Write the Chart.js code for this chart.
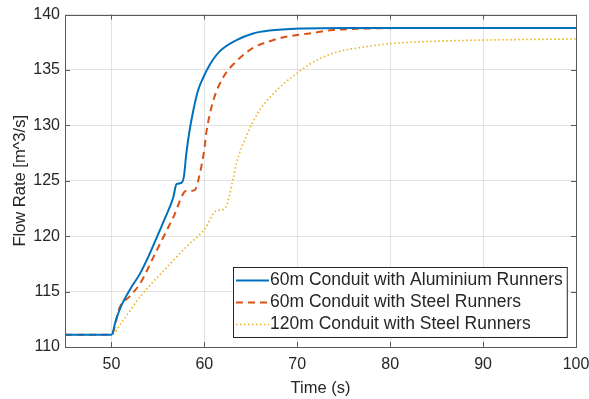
<!DOCTYPE html>
<html>
<head>
<meta charset="utf-8">
<script src="https://cdn.jsdelivr.net/npm/chart.js@4/dist/chart.umd.min.js"></script>
<style>
html,body{margin:0;padding:0;background:#fff;}
canvas{display:block;}
</style>
</head>
<body>
<canvas id="c" width="589" height="399"></canvas>
<script>
// ---- data ----
const seriesNames = [
  "60m Conduit with Aluminium Runners",
  "60m Conduit with Steel Runners",
  "120m Conduit with Steel Runners"
];
const timeAlu = [45, 50, 50.5, 51.1, 52, 53.06, 54, 54.86, 55.8, 56.65, 57.0, 57.5, 57.8, 58.05, 58.4, 58.8, 59.3, 59.87, 60.6, 61.67, 63.46, 65.25, 67, 70.6, 75, 100];
const flowAlu = [111.1, 111.1, 112.5, 113.8, 115.2, 116.6, 118.2, 119.85, 121.7, 123.5, 124.7, 124.8, 125.4, 127.4, 129.5, 131.3, 133.1, 134.3, 135.5, 136.7, 137.7, 138.3, 138.56, 138.75, 138.8, 138.8];
const timeSteel60 = [45, 50, 50.9, 52, 53.06, 54.86, 56.65, 58.08, 58.6, 59.0, 59.5, 59.97, 60.24, 60.95, 62.0, 63.46, 65.25, 67.04, 68.8, 71.3, 73.8, 78, 85, 100];
const flowSteel60 = [111.1, 111.1, 113.6, 114.6, 115.7, 118.7, 121.7, 124.1, 124.1, 124.2, 125.6, 127.7, 129.5, 132.2, 134.3, 135.8, 137.0, 137.6, 138.0, 138.3, 138.6, 138.75, 138.8, 138.8];
const timeSteel120 = [45, 50, 51, 53.06, 56.65, 58, 60.0, 61.3, 62.2, 63.1, 63.46, 64.5, 65.9, 67.7, 69.8, 71.3, 73.8, 77.4, 80.3, 85, 90, 100];
const flowSteel120 = [111.1, 111.1, 112.1, 114.5, 117.8, 119.0, 120.6, 122.3, 122.5, 125.2, 126.6, 129.0, 131.3, 133.1, 134.6, 135.5, 136.5, 137.1, 137.4, 137.6, 137.7, 137.8];
const xTicks = [50, 60, 70, 80, 90, 100];
const yTicks = [110, 115, 120, 125, 130, 135, 140];
const xLabel = "Time (s)";
const yLabel = "Flow Rate [m^3/s]";

const pts = (xs, ys) => xs.map((x, i) => ({x: x, y: ys[i]}));
const FONT = "'Liberation Sans', Arial, sans-serif";
const colors = ["#0072BD", "#D95319", "#EDB120"];
const dashes = [[], [7, 5], [1.5, 2.5]];
const widths = [2, 2, 1.6];

const boxPlugin = {
  id: 'matlabBox',
  afterDatasetsDraw(chart) {
    const {ctx, chartArea: a, scales} = chart;
    ctx.save();
    ctx.strokeStyle = '#5a5a5a';
    ctx.lineWidth = 1;
    ctx.strokeRect(Math.round(a.left) + 0.5, Math.round(a.top) + 0.5, Math.round(a.right - a.left), Math.round(a.bottom - a.top));
    const tl = 5;
    ctx.beginPath();
    xTicks.forEach(v => {
      const x = Math.round(scales.x.getPixelForValue(v)) + 0.5;
      ctx.moveTo(x, a.bottom); ctx.lineTo(x, a.bottom - tl);
      ctx.moveTo(x, a.top); ctx.lineTo(x, a.top + tl);
    });
    yTicks.forEach(v => {
      const y = Math.round(scales.y.getPixelForValue(v)) + 0.5;
      ctx.moveTo(a.left, y); ctx.lineTo(a.left + tl, y);
      ctx.moveTo(a.right, y); ctx.lineTo(a.right - tl, y);
    });
    ctx.stroke();

    // legend inside plot, bottom-right
    const fs = 17.5;
    ctx.font = fs + "px " + FONT;
    const rowH = 22;
    const sampleW = 33;
    let maxW = 0;
    chart.data.datasets.forEach(d => { maxW = Math.max(maxW, ctx.measureText(d.label).width); });
    const bw = 3 + sampleW + 1 + maxW + 4;
    const bh = rowH * 3 + 4;
    const bx = Math.round(a.right - 9 - bw);
    const by = Math.round(a.bottom - 10 - bh);
    ctx.fillStyle = '#fff';
    ctx.fillRect(bx, by, bw, bh);
    ctx.strokeStyle = '#262626';
    ctx.strokeRect(bx + 0.5, by + 0.5, bw, bh);
    chart.data.datasets.forEach((d, i) => {
      const cy = by + 2 + rowH * i + rowH / 2 + 0.5;
      ctx.beginPath();
      ctx.setLineDash(dashes[i]);
      ctx.strokeStyle = colors[i];
      ctx.lineWidth = widths[i];
      ctx.moveTo(bx + 3, cy); ctx.lineTo(bx + 3 + sampleW, cy);
      ctx.stroke();
      ctx.setLineDash([]);
      ctx.fillStyle = '#262626';
      ctx.textBaseline = 'middle';
      ctx.textAlign = 'left';
      ctx.fillText(d.label, bx + 3 + sampleW + 1, cy);
    });
    ctx.restore();
  }
};

new Chart(document.getElementById('c'), {
  type: 'line',
  data: {
    datasets: [
      {label: seriesNames[0], data: pts(timeAlu, flowAlu)},
      {label: seriesNames[1], data: pts(timeSteel60, flowSteel60)},
      {label: seriesNames[2], data: pts(timeSteel120, flowSteel120)}
    ].map((d, i) => Object.assign(d, {
      borderColor: colors[i],
      backgroundColor: colors[i],
      borderWidth: widths[i],
      borderDash: dashes[i],
      pointRadius: 0,
      fill: false,
      cubicInterpolationMode: 'monotone'
    }))
  },
  options: {
    responsive: false,
    animation: false,
    layout: {padding: {left: 0, right: 0, top: 13, bottom: 0}},
    plugins: {legend: {display: false}, tooltip: {enabled: false}},
    scales: {
      x: {
        type: 'linear', min: 45, max: 100,
        afterBuildTicks: s => { s.ticks = xTicks.map(v => ({value: v})); },
        afterFit: s => { s.height = 52; s.paddingRight = 13; s.paddingLeft = 0; },
        border: {display: false},
        grid: {color: 'rgba(0,0,0,0.11)', drawTicks: false},
        ticks: {color: '#262626', font: {family: FONT, size: 16}, padding: 8, maxRotation: 0, autoSkip: false},
        title: {display: true, text: xLabel, color: '#262626', font: {family: FONT, size: 16.5}, padding: {top: 0, bottom: 1}}
      },
      y: {
        type: 'linear', min: 110, max: 140,
        afterBuildTicks: s => { s.ticks = yTicks.map(v => ({value: v})); },
        afterFit: s => { s.width = 65; },
        border: {display: false},
        grid: {color: 'rgba(0,0,0,0.11)', drawTicks: false},
        ticks: {color: '#262626', font: {family: FONT, size: 16}, padding: 5, autoSkip: false},
        title: {display: true, text: yLabel, color: '#262626', font: {family: FONT, size: 16.5}, padding: {top: 11, bottom: 0}}
      }
    }
  },
  plugins: [boxPlugin]
});
</script>
</body>
</html>
